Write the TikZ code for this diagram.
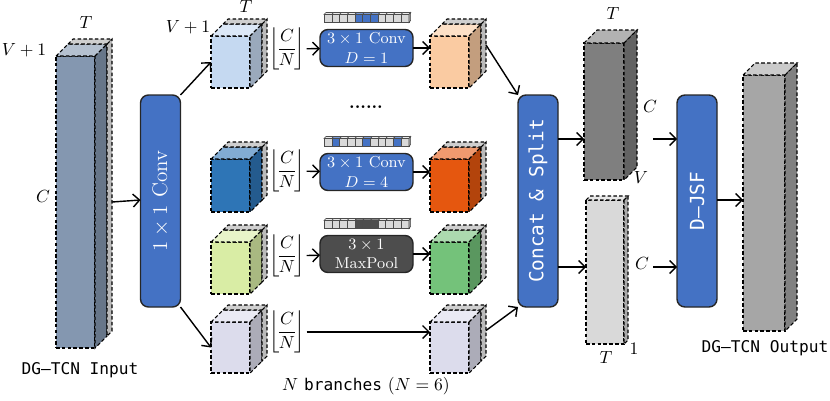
\documentclass[tikz,border=0pt]{standalone}
\usepackage{amsmath}
\usepackage{fontspec}
\setmonofont{DejaVu Sans Mono}[Scale=0.92]
\usetikzlibrary{arrows.meta, positioning, calc}

\newcommand{\pxu}{0.2mm}
\newcommand{\chsplit}{$\left\lfloor\!\dfrac{C}{N}\!\right\rfloor$}

\definecolor{inblue}{HTML}{8497B0}
\definecolor{cubeA}{HTML}{C5D9F1}
\definecolor{cubeAo}{HTML}{FACBA2}
\definecolor{cubeB}{HTML}{2E75B6}
\definecolor{cubeBo}{HTML}{E5570F}
\definecolor{cubeC}{HTML}{D9EDA5}
\definecolor{cubeCo}{HTML}{74C27A}
\definecolor{cubeD}{HTML}{DCDCEC}
\definecolor{splitA}{HTML}{7F7F7F}
\definecolor{splitB}{HTML}{D9D9D9}
\definecolor{outgray}{HTML}{A6A6A6}
\definecolor{slabgray}{HTML}{CFCFCF}
\definecolor{convblue}{HTML}{4472C4}
\definecolor{pooldark}{HTML}{4D4D4D}
\definecolor{kgray}{HTML}{D9D9D9}

% cuboid: front face is the named node, then top and side faces
% #1 name, #2 NW corner, #3 width, #4 height, #5 depth, #6 colour, #7 grey slab depth
\newcommand{\featcube}[7]{%
  \node[face, fill=#6, minimum width=#3*\pxu, minimum height=#4*\pxu, anchor=north west] (#1) at (#2) {};
  \draw[face, fill=#6!60!white] (#1.north west) -- ++(#5,-#5) -- ++(#3,0) -- (#1.north east) -- cycle;
  \draw[face, fill=#6!78!black] (#1.north east) -- ++(#5,-#5) -- ++(0,#4) -- (#1.south east) -- cycle;
  \ifnum#7>0
    \draw[face, fill=slabgray] ([shift={(#5,-#5)}]#1.north west) -- ++(#7,-#7) -- ++(#3,0)
      -- ([shift={(#5,-#5)}]#1.north east) -- cycle;
    \draw[face, fill=slabgray!90!black] ([shift={(#5,-#5)}]#1.north east) -- ++(#7,-#7) -- ++(0,#4)
      -- ([shift={(#5,-#5)}]#1.south east) -- cycle;
  \fi
}

% kernel strip above an operation box
% #1 box node, #2 highlighted cells, #3 colour
\newcommand{\kernel}[3]{%
  \begin{scope}[shift={(#1.north)}]
    \foreach \i in {0,...,10} {
      \draw[cell, fill=kgray!55!white] (-42.35+\i*7.7,-15) -- ++(1.8,-2) -- ++(7.7,0) -- ++(-1.8,2) -- cycle;
      \draw[cell, fill=kgray] (-42.35+\i*7.7,-7) rectangle ++(7.7,-8);
    }
    \foreach \i in {#2} {
      \draw[cell, fill=#3!70!white] (-42.35+\i*7.7,-15) -- ++(1.8,-2) -- ++(7.7,0) -- ++(-1.8,2) -- cycle;
      \draw[cell, fill=#3] (-42.35+\i*7.7,-7) rectangle ++(7.7,-8);
    }
    \draw[cell, fill=kgray!70!black] (42.35,-7) -- ++(1.8,-2) -- ++(0,-8) -- ++(-1.8,2) -- cycle;
  \end{scope}
}

\begin{document}
\begin{tikzpicture}[
    x=\pxu, y=-\pxu,
    face/.style={
      draw=black,
      line width=0.6pt,
      dash pattern=on 2pt off 1.3pt,
      outer sep=0pt,
      inner sep=0pt
    },
    cell/.style={draw=black!70, line width=0.35pt},
    opbar/.style={
      draw=black!85,
      line width=0.8pt,
      rounded corners=1.6mm,
      fill=convblue,
      text=white,
      minimum width=40*\pxu,
      minimum height=212*\pxu,
      inner sep=0pt,
      outer sep=0pt
    },
    opbox/.style={
      draw=black!85,
      line width=0.8pt,
      rounded corners=1.6mm,
      fill=convblue,
      text=white,
      align=center,
      minimum width=93*\pxu,
      minimum height=37*\pxu,
      inner sep=0pt,
      outer sep=0pt,
      font=\small
    },
    arrow/.style={-{Straight Barb[length=1.3mm, width=2.6mm]}, line width=0.8pt},
    lbl/.style={inner sep=1pt}
  ]
    \useasboundingbox (0,0) rectangle (830,400);

    % input tensor
    \featcube{inp}{56,56}{39}{292}{12}{inblue}{5}
    \node[lbl] (inV) at (24,50) {$V+1$};
    \node[lbl] (inT) at (86,22) {$T$};
    \node[lbl] (inC) at (43,196) {$C$};
    \node[lbl] (inName) at (80,370) {\texttt{DG–TCN Input}};

    \node[opbar] (conv) at (160.5,201) {\large\rotatebox{90}{$1\times1$ Conv}};

    % branches, left column
    \featcube{b1l}{211,36}{39}{52}{12}{cubeA}{5}
    \featcube{b2l}{211,159}{39}{53}{12}{cubeB}{5}
    \featcube{b3l}{211,242}{39}{52}{12}{cubeC}{5}
    \featcube{b4l}{211,322}{39}{51}{12}{cubeD}{5}
    \node[lbl] (bV) at (188,27) {$V+1$};
    \node[lbl] (bT) at (246,6) {$T$};

    % channel split labels
    \node[lbl] (k1) at (287,49) {\chsplit};
    \node[lbl] (k2) at (287,171) {\chsplit};
    \node[lbl] (k3) at (287,256) {\chsplit};
    \node[lbl] (k4) at (287,332) {\chsplit};

    % operations
    \node[opbox] (op1) at (366.5,48) {$3\times1$ Conv\\$D=1$};
    \node[opbox] (op2) at (366.5,172) {$3\times1$ Conv\\$D=4$};
    \node[opbox, fill=pooldark] (op3) at (366.5,254) {$3\times1$\\MaxPool};
    \kernel{op1}{4,5,6}{convblue}
    \kernel{op2}{1,5,9}{convblue}
    \kernel{op3}{4,5,6}{pooldark}
    \node[lbl, font=\bfseries] (dots) at (366,107) {......};

    % branches, right column
    \featcube{b1r}{430,36}{39}{52}{12}{cubeAo}{5}
    \featcube{b2r}{430,159}{39}{53}{12}{cubeBo}{5}
    \featcube{b3r}{430,242}{39}{52}{12}{cubeCo}{5}
    \featcube{b4r}{430,322}{39}{51}{12}{cubeD}{5}
    \node[lbl] (nb) at (366,386) {$N$ \texttt{branches} $(N=6)$};

    \node[opbar] (cat) at (538,201) {\large\rotatebox{90}{\texttt{Concat \& Split}}};

    % split outputs
    \featcube{sa}{584,43}{40}{137}{13}{splitA}{0}
    \featcube{sb}{586,200}{38}{144}{4}{splitB}{0}
    \node[lbl] (saT) at (613,13) {$T$};
    \node[lbl] (saC) at (650,106) {$C$};
    \node[lbl] (saV) at (641,177) {$V$};
    \node[lbl] (sbC) at (642,263) {$C$};
    \node[lbl] (sbT) at (606,357) {$T$};
    \node[lbl] (sb1) at (634,349) {$1$};

    \node[opbar] (djsf) at (697,201) {\large\rotatebox{90}{\texttt{D–JSF}}};

    \featcube{out}{743,75}{42}{256}{12}{outgray}{0}
    \node[lbl] (outName) at (765,348) {\texttt{DG–TCN Output}};

    \coordinate (fa) at (653,139);
    \coordinate (fb) at (653,267);

    \draw[arrow] ([xshift=17*\pxu]inp.east) -- (conv.west |- 0,200);
    \draw[arrow] (conv.north east) -- (b1l.west);
    \draw[arrow] (conv.south east) -- (b4l.west);
    \draw[arrow] (k1) -- (op1);
    \draw[arrow] (k2) -- (op2);
    \draw[arrow] (k3) -- (op3);
    \draw[arrow] (op1) -- (b1r.west |- op1);
    \draw[arrow] (op2) -- (b2r.west |- op2);
    \draw[arrow] (op3) -- (b3r.west |- op3);
    \draw[arrow] (k4.east) -- (k4.east -| b4r.west);
    \draw[arrow] ([shift={(17,-17)}]b1r.east) -- (cat.north west);
    \draw[arrow] ([shift={(17,-17)}]b4r.east) -- (cat.south west);
    \draw[arrow] (cat.east |- fa) -- (sa.west |- fa);
    \draw[arrow] (cat.east |- fb) -- (sb.west |- fb);
    \draw[arrow] (fa) -- (fa -| djsf.west);
    \draw[arrow] (fb) -- (fb -| djsf.west);
    \draw[arrow] (djsf.east |- 0,200) -- (out.west |- 0,200);
  \end{tikzpicture}
\end{document}
